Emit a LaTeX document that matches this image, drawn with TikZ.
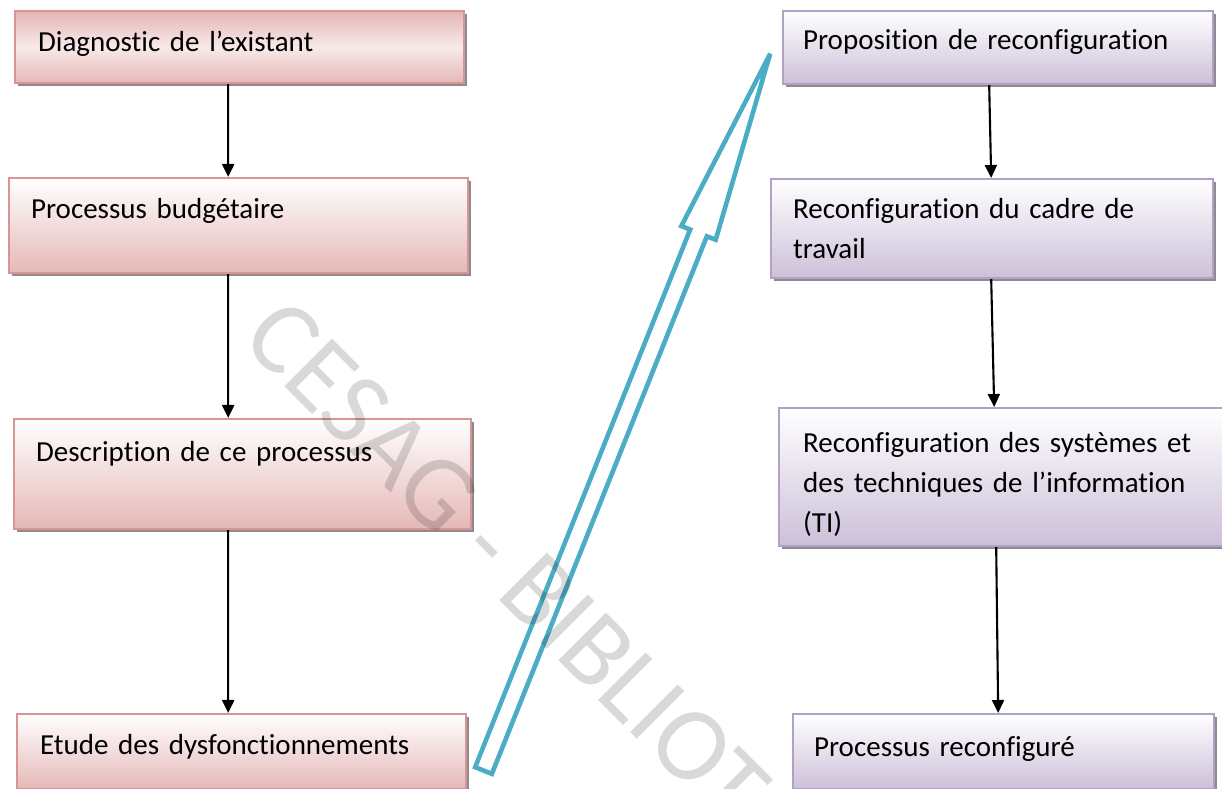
\documentclass[tikz,border=0pt]{standalone}
\usepackage{fontspec}
\setmainfont{Carlito}[Ligatures=CommonOff]
\usetikzlibrary{arrows.meta,shadows}
\definecolor{rosebord}{HTML}{D99594}
\definecolor{rosefond}{HTML}{E5B8B7}
\definecolor{roseclair}{HTML}{F2DCDB}
\definecolor{mauvebord}{HTML}{B2A1C7}
\definecolor{mauvefond}{HTML}{CCC0D9}
\definecolor{bleufleche}{HTML}{4BACC6}

\begin{document}
\begin{tikzpicture}[x=0.01cm, y=-0.01cm,
  etape/.style={draw, line width=0.6pt, anchor=north west, align=left, inner ysep=0pt,
    font=\fontsize{8.25}{11.4}\selectfont,
    drop shadow={shadow xshift=0.03cm, shadow yshift=-0.03cm, fill=black, opacity=0.45}},
  rose/.style={etape, draw=rosebord, top color=white, bottom color=rosefond},
  mauve/.style={etape, draw=mauvebord, top color=white, bottom color=mauvefond},
  taille/.style n args={4}{text width=#1cm, inner xsep=#2cm, text height=#3cm, text depth=#4cm},
  suite/.style={-{Triangle[length=0.13cm, width=0.12cm]}, line width=0.6pt}]
  \useasboundingbox (0,0) rectangle (1222,789);
  \clip (0,0) rectangle (1222,789);
  % colonne de gauche
  \node[rose, taille={4.03}{0.23}{0.40}{0.32}, top color=rosebord!70,
    bottom color=rosefond, middle color=roseclair!60] (diag) at (14,10)
    {Diagnostic de l’existant};
  \node[rose, taille={4.15}{0.22}{0.40}{0.55}] (budget) at (8,177)
    {Processus budgétaire};
  \node[rose, taille={4.13}{0.22}{0.42}{0.68}] (descr) at (13,418)
    {Description de ce processus};
  \node[rose, taille={4.03}{0.23}{0.40}{0.35}] (etude) at (16,713)
    {Etude des dysfonctionnements};
  % colonne de droite
  \node[mauve, taille={3.90}{0.20}{0.38}{0.35}] (propo) at (782,10)
    {Proposition de reconfiguration};
  \node[mauve, taille={3.98}{0.22}{0.39}{0.60}] (cadre) at (770,178)
    {Reconfiguration du cadre de\\travail};
  \node[mauve, taille={4.02}{0.24}{0.44}{0.94}] (syst) at (778,407)
    {Reconfiguration des systèmes et\\des techniques de l’information\\(TI)};
  \node[mauve, taille={3.79}{0.21}{0.42}{0.33}] (final) at (792,713)
    {Processus reconfiguré};
  \draw[suite] ([xshift=-0.115cm]diag.south) -- ([xshift=-0.105cm]budget.north);
  \draw[suite] ([xshift=-0.105cm]budget.south) -- ([xshift=-0.145cm]descr.north);
  \draw[suite] ([xshift=-0.145cm]descr.south) -- ([xshift=-0.135cm]etude.north);
  \draw[suite] ([xshift=-0.09cm]propo.south) -- ([xshift=-0.01cm]cadre.north);
  \draw[suite] ([xshift=-0.01cm]cadre.south) -- ([xshift=-0.10cm]syst.north);
  \draw[suite] ([xshift=-0.08cm]syst.south) -- ([xshift=-0.055cm]final.north);
  % grande fleche creuse
  \begin{scope}[shift={(483.5,770.5)}, rotate=68.2]
    \draw[bleufleche, line width=1.3pt, fill=white] (0,-9) -- (579,-9) -- (579,-18.5)
      -- (772,0) -- (579,18.5) -- (579,9) -- (0,9) -- cycle;
  \end{scope}
  \node[rotate=-45, anchor=base west, inner sep=0pt, text=black, text opacity=0.15,
    font=\fontsize{29.9}{30}\selectfont] (filigrane) at (239,341) {CESAG - BIBLIOT};
\end{tikzpicture}
\end{document}
